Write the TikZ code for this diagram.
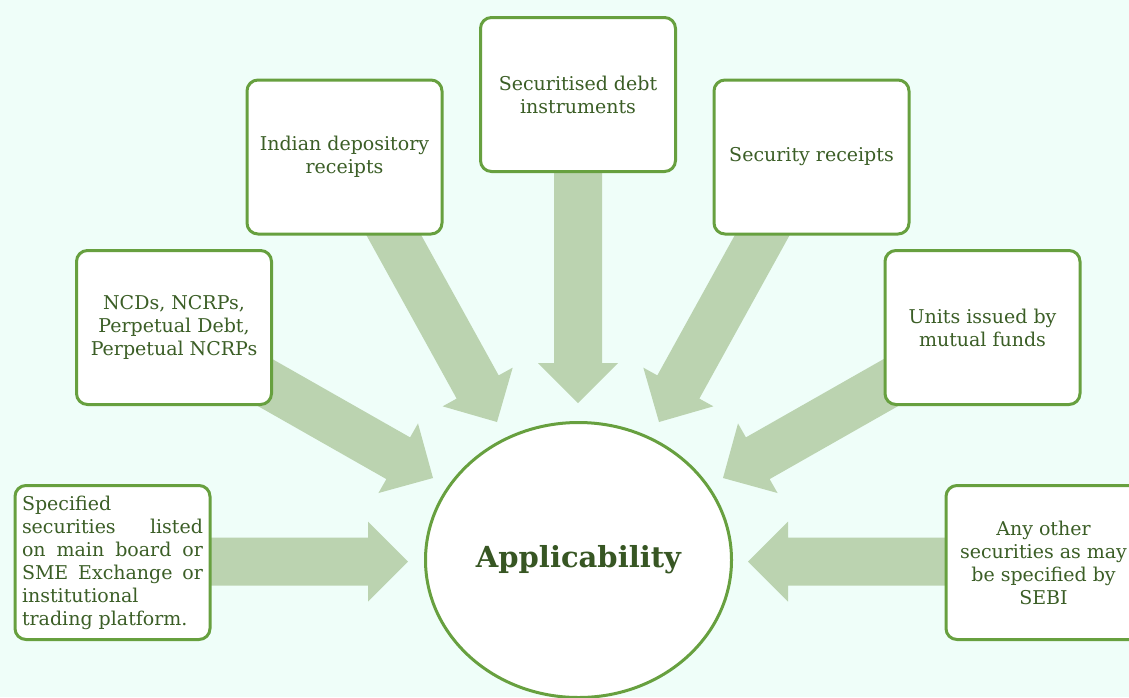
\documentclass[tikz,border=0pt]{standalone}
\usepackage{fontspec}
\setmainfont{DejaVu Serif}
\usetikzlibrary{calc,shapes.geometric}

\definecolor{bgmint}{HTML}{EFFEF9}
\definecolor{boxline}{HTML}{67A03F}
\definecolor{leaftext}{HTML}{3B5E26}
\definecolor{hubtext}{HTML}{375623}
\definecolor{arrowfill}{HTML}{BBD3B0}

\tikzset{
  itembox/.style={draw=boxline, line width=3pt, fill=white, rounded corners=11pt,
    minimum width=195pt, minimum height=154pt, inner sep=0pt, text=leaftext,
    font=\fontsize{19}{23}\selectfont, align=center},
  hub/.style={ellipse, draw=boxline, line width=3pt, fill=white,
    minimum width=306pt, minimum height=275pt, inner sep=0pt, text=hubtext,
    font=\fontsize{29}{32}\selectfont\bfseries}
}

% wide block arrow from #1 to the tip #2 (shaft 48pt, head 80pt wide, 40pt long)
\newcommand{\blockarrow}[2]{%
  \path ($(#2)!40pt!(#1)$) coordinate (#2-base);
  \fill[arrowfill] ($(#1)!24pt!90:(#2)$) -- ($(#2-base)!24pt!90:(#2)$)
    -- ($(#2-base)!40pt!90:(#2)$) -- (#2) -- ($(#2-base)!40pt!-90:(#2)$)
    -- ($(#2-base)!24pt!-90:(#2)$) -- ($(#1)!24pt!-90:(#2)$) -- cycle;}

\begin{document}
\begin{tikzpicture}[x=1pt,y=-1pt]
\useasboundingbox[fill=bgmint] (0,0) rectangle (1129,697);

% arrow anchors: tails sit under the boxes, tips point at the hub
\coordinate (s1) at (200,561.5);   \coordinate (t1) at (408,561.5);
\coordinate (s2) at (246.2,371.8); \coordinate (t2) at (433,478);
\coordinate (s3) at (385.7,220.5); \coordinate (t3) at (497,422);
\coordinate (s4) at (578,160);     \coordinate (t4) at (578,403);
\coordinate (s5) at (770.3,220.5); \coordinate (t5) at (659,422);
\coordinate (s6) at (909.8,371.8); \coordinate (t6) at (723,478);
\coordinate (s7) at (960,561.5);   \coordinate (t7) at (748,561.5);

\blockarrow{s1}{t1}
\blockarrow{s2}{t2}
\blockarrow{s3}{t3}
\blockarrow{s4}{t4}
\blockarrow{s5}{t5}
\blockarrow{s6}{t6}
\blockarrow{s7}{t7}

\node[hub] (hub) at (578.5,560) {Applicability};

\node[itembox, align=left] (b1) at (112.5,562.5) {%
  \begin{minipage}{181pt}\fontsize{19}{23}\selectfont
  Specified\\
  \makebox[\linewidth][s]{securities listed}\\
  \makebox[\linewidth][s]{on main board or}\\
  \makebox[\linewidth][s]{SME Exchange or}\\
  institutional\\
  trading platform.
  \end{minipage}};
\node[itembox] (b2) at (174,327.5) {NCDs, NCRPs,\\Perpetual Debt,\\Perpetual NCRPs};
\node[itembox] (b3) at (344.5,157) {Indian depository\\receipts};
\node[itembox] (b4) at (578,94.5) {Securitised debt\\instruments};
\node[itembox] (b5) at (811.5,157) {Security receipts};
\node[itembox] (b6) at (982.5,327.5) {Units issued by\\mutual funds};
\node[itembox] (b7) at (1043.5,562.5) {Any other\\securities as may\\be specified by\\SEBI};
\end{tikzpicture}
\end{document}
